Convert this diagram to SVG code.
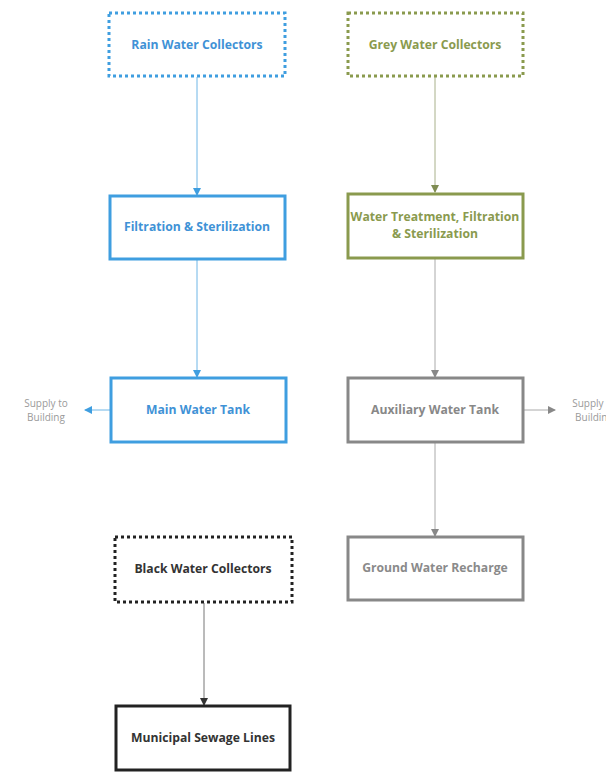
<svg xmlns="http://www.w3.org/2000/svg" width="606" height="775" viewBox="0 0 606 775">
  <style>
    .box { fill: #ffffff; stroke-width: 3; }
    .dot { stroke-dasharray: 3 3; }
    .lbl { font-family: "Open Sans", "Liberation Sans", sans-serif; font-size: 12.2px; font-weight: bold; text-anchor: middle; }
    .side { font-family: "Open Sans", "Liberation Sans", sans-serif; font-size: 10px; fill: #9a9a9a; text-anchor: middle; }
    .blue { stroke: #3f9ee0; }
    .olive { stroke: #8a9a4e; }
    .grey { stroke: #888888; }
    .black { stroke: #222222; }
    .conn line { stroke-width: 1; fill: none; }
  </style>
  <defs>
    <marker id="ahBlue" markerWidth="8" markerHeight="8" refX="7" refY="4" orient="auto" markerUnits="userSpaceOnUse">
      <path d="M0,0 L8,4 L0,8 Z" fill="#3f9ee0"/>
    </marker>
    <marker id="ahOlive" markerWidth="8" markerHeight="8" refX="7" refY="4" orient="auto" markerUnits="userSpaceOnUse">
      <path d="M0,0 L8,4 L0,8 Z" fill="#7f8c52"/>
    </marker>
    <marker id="ahGrey" markerWidth="8" markerHeight="8" refX="7" refY="4" orient="auto" markerUnits="userSpaceOnUse">
      <path d="M0,0 L8,4 L0,8 Z" fill="#888888"/>
    </marker>
    <marker id="ahBlack" markerWidth="8" markerHeight="8" refX="7" refY="4" orient="auto" markerUnits="userSpaceOnUse">
      <path d="M0,0 L8,4 L0,8 Z" fill="#333333"/>
    </marker>
  </defs>

  <rect width="606" height="775" fill="#ffffff"/>

  <!-- connectors -->
  <g id="connectors" class="conn">
    <line x1="197" y1="77" x2="197" y2="195" stroke="#6fb6e6" marker-end="url(#ahBlue)"/>
    <line x1="197" y1="260" x2="197" y2="377" stroke="#6fb6e6" marker-end="url(#ahBlue)"/>
    <line x1="111" y1="410" x2="85" y2="410" stroke="#6fb6e6" marker-end="url(#ahBlue)"/>
    <line x1="435" y1="77" x2="435" y2="192" stroke="#a8b08a" marker-end="url(#ahOlive)"/>
    <line x1="435" y1="259" x2="435" y2="377" stroke="#aaaaaa" marker-end="url(#ahGrey)"/>
    <line x1="523" y1="410" x2="555" y2="410" stroke="#aaaaaa" marker-end="url(#ahGrey)"/>
    <line x1="435" y1="443" x2="435" y2="536" stroke="#aaaaaa" marker-end="url(#ahGrey)"/>
    <line x1="204" y1="603" x2="204" y2="705" stroke="#777777" marker-end="url(#ahBlack)"/>
  </g>

  <g id="rain-collectors">
    <rect class="box dot blue" x="109" y="13" width="176" height="63"/>
    <text class="lbl" x="197" y="49" fill="#3f92d6">Rain Water Collectors</text>
  </g>
  <g id="grey-collectors">
    <rect class="box dot olive" x="348" y="13" width="175" height="63"/>
    <text class="lbl" x="435" y="49" fill="#8a9a4e">Grey Water Collectors</text>
  </g>
  <g id="filtration">
    <rect class="box blue" x="110" y="196" width="175" height="63"/>
    <text class="lbl" x="197" y="231" fill="#3f92d6">Filtration &amp; Sterilization</text>
  </g>
  <g id="treatment">
    <rect class="box olive" x="348" y="194" width="175" height="64"/>
    <text class="lbl" x="435" y="221" fill="#8a9a4e">Water Treatment, Filtration</text>
    <text class="lbl" x="435" y="238" fill="#8a9a4e">&amp; Sterilization</text>
  </g>
  <g id="main-tank">
    <rect class="box blue" x="111" y="378" width="175" height="64"/>
    <text class="lbl" x="198" y="414" fill="#3f92d6">Main Water Tank</text>
  </g>
  <g id="supply-left">
    <text class="side" x="46" y="407">Supply to</text>
    <text class="side" x="46" y="421">Building</text>
  </g>
  <g id="aux-tank">
    <rect class="box grey" x="348" y="378" width="175" height="64"/>
    <text class="lbl" x="435" y="414" fill="#888888">Auxiliary Water Tank</text>
  </g>
  <g id="supply-right">
    <text class="side" x="594" y="407">Supply to</text>
    <text class="side" x="594" y="421">Building</text>
  </g>
  <g id="black-collectors">
    <rect class="box dot black" x="115" y="537" width="177" height="65"/>
    <text class="lbl" x="203" y="573" fill="#333333">Black Water Collectors</text>
  </g>
  <g id="ground-recharge">
    <rect class="box grey" x="348" y="537" width="175" height="63"/>
    <text class="lbl" x="435" y="572" fill="#8a8a8a">Ground Water Recharge</text>
  </g>
  <g id="sewage">
    <rect class="box black" x="116" y="706" width="174" height="64"/>
    <text class="lbl" x="203" y="742" fill="#333333">Municipal Sewage Lines</text>
  </g>
</svg>
